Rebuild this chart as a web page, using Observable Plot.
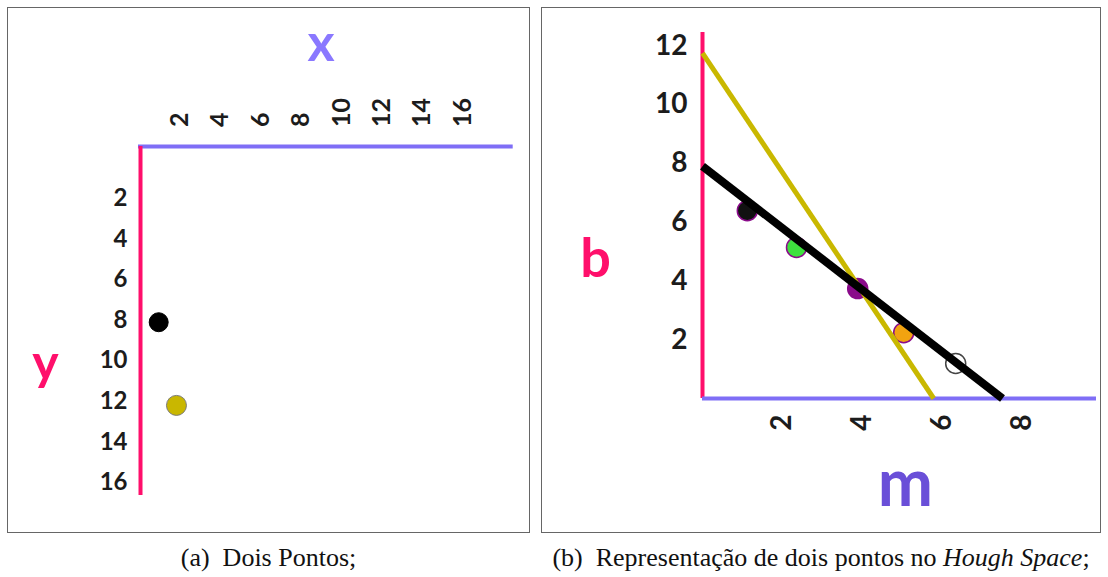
<!DOCTYPE html>
<html>
<head>
<meta charset="utf-8">
<script src="https://cdn.jsdelivr.net/npm/d3@7"></script>
<script src="https://cdn.jsdelivr.net/npm/@observablehq/plot@0.6"></script>
<style>
  body { margin: 0; background: #fff; width: 1108px; height: 577px; position: relative; overflow: hidden; }
  .panel { position: absolute; }
  .panel svg { display: block; outline: 1.5px solid #666; outline-offset: -1px; }
  .cap { position: absolute; top: 543px; font-family: "Liberation Serif", serif; font-size: 26px; color: #111; text-align: center; white-space: nowrap; }
</style>
</head>
<body>
<div id="panelA" class="panel" style="left:7px;top:7px"></div>
<div id="panelB" class="panel" style="left:541px;top:7px"></div>
<div class="cap" style="left:7px;width:523px">(a)&ensp;Dois Pontos;</div>
<div class="cap" style="left:541px;width:560px">(b)&ensp;Representação de dois pontos no <i>Hough Space</i>;</div>
<script>
// ---- Panel (a): two points in image coordinates (y grows downward) ----
const imageTicks = [2, 4, 6, 8, 10, 12, 14, 16];
const pointX = [0.95, 1.83];
const pointY = [8.1, 12.2];
const pointFill = ["#000000", "#c9b700"];
const pointStroke = ["#000000", "#7a7a7a"];
const pointRadius = [9.5, 10];

// ---- Panel (b): the same two points as lines in (m, b) Hough space ----
const bTicks = [2, 4, 6, 8, 10, 12];
const mTicks = [2, 4, 6, 8];
const lineB0 = [11.75, 7.9];   // where each line meets the b axis (m = 0)
const lineM0 = [5.78, 7.5];    // where each line meets the m axis (b = 0)
const lineColor = ["#c9b800", "#000000"];
const lineWidth = [5, 8];
const voteM = [1.12, 2.35, 3.88, 5.03, 6.33];
const voteB = [6.39, 5.14, 3.74, 2.24, 1.19];
const voteFill = ["#111111", "#3ee03e", "#8a0a8a", "#f2a310", "#ffffff"];
const voteStroke = ["#8a0a8a", "#8a0a8a", "#8a0a8a", "#8a0a8a", "#444444"];

const PINK = "#ff0f6b";
const BLUE = "#7f6ef6";
const INK = "#1c1c1c";
const SANS = "Lato, 'Open Sans', sans-serif";

const points = pointX.map((x, i) => ({x, y: pointY[i], fill: pointFill[i], stroke: pointStroke[i], r: pointRadius[i]}));
const votes = voteM.map((m, i) => ({m, b: voteB[i], fill: voteFill[i], stroke: voteStroke[i]}));
const lines = lineB0.map((b0, i) => ({m1: 0, b1: b0, m2: lineM0[i], b2: 0, color: lineColor[i], width: lineWidth[i]}));

const axisLabel = {textAnchor: "middle", lineAnchor: "middle"};

const plotA = Plot.plot({
  width: 523, height: 526,
  marginLeft: 132, marginRight: 67.8, marginTop: 150.4, marginBottom: 51,
  x: {domain: [0, 16], label: null},
  y: {domain: [0, 16], reverse: true, label: null},
  r: {type: "identity"},
  color: {type: "identity"},
  style: {background: "#fff", overflow: "visible", fontFamily: SANS, fontWeight: 700},
  marks: [
    Plot.ruleY([-0.56], {x1: -0.05, x2: 18.5, stroke: BLUE, strokeWidth: 4}),
    Plot.ruleX([0.05], {y1: -0.56, y2: 16.64, stroke: PINK, strokeWidth: 4}),
    Plot.axisX(imageTicks, {anchor: "top", label: null, tickSize: 0, tickPadding: 31, tickRotate: -90, fontSize: 25, color: INK}),
    Plot.axisY(imageTicks, {anchor: "left", label: null, tickSize: 0, tickPadding: 12, fontSize: 24, color: INK}),
    Plot.dot(points, {x: "x", y: "y", r: "r", fill: "fill", stroke: "stroke", strokeWidth: 1}),
    Plot.text(["x"], {frameAnchor: "top", ...axisLabel, dx: 20, dy: -114, fontSize: 52, fill: "#8a78ff"}),
    Plot.text(["y"], {frameAnchor: "left", ...axisLabel, dx: -94, dy: 44, fontSize: 50, fill: PINK})
  ]
});
document.getElementById("panelA").append(plotA);

const plotB = Plot.plot({
  width: 560, height: 526,
  marginLeft: 161, marginRight: 19, marginTop: 38.2, marginBottom: 135,
  x: {domain: [0, 9.5], label: null},
  y: {domain: [0, 12], label: null},
  color: {type: "identity"},
  style: {background: "#fff", overflow: "visible", fontFamily: SANS, fontWeight: 700},
  marks: [
    Plot.ruleX([0], {y1: 0, y2: 12.45, stroke: PINK, strokeWidth: 4}),
    Plot.ruleY([0], {x1: 0, x2: 9.85, stroke: BLUE, strokeWidth: 4}),
    Plot.axisY(bTicks, {anchor: "left", label: null, tickSize: 0, tickPadding: 15, fontSize: 28, color: INK}),
    Plot.axisX(mTicks, {anchor: "bottom", label: null, tickSize: 0, tickPadding: 16, tickRotate: -90, fontSize: 28, color: INK}),
    Plot.dot(votes, {x: "m", y: "b", r: 10, fill: "fill", stroke: "stroke", strokeWidth: 1.5}),
    ...lines.map(l => Plot.link([l], {x1: "m1", y1: "b1", x2: "m2", y2: "b2", stroke: l.color, strokeWidth: l.width})),
    Plot.text(["b"], {frameAnchor: "left", ...axisLabel, dx: -107, dy: 38, fontSize: 54, fill: PINK}),
    Plot.text(["m"], {frameAnchor: "bottom", ...axisLabel, dx: 13, dy: 86, fontSize: 66, fill: "#6a4fd8"})
  ]
});
document.getElementById("panelB").append(plotB);
</script>
</body>
</html>
